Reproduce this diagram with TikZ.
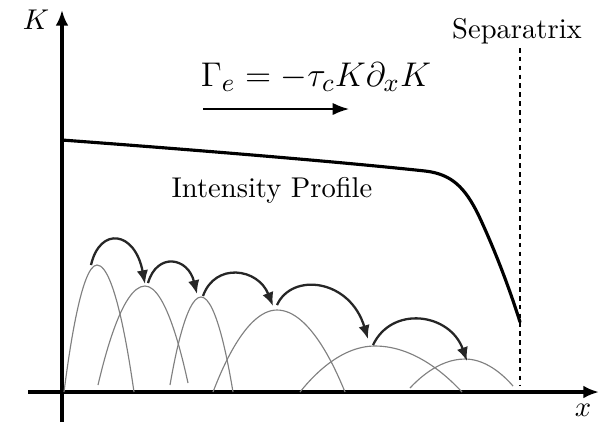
\documentclass[tikz,border=0pt]{standalone}
\usepackage{amsmath,amssymb}
\usepackage{tikz}
\usetikzlibrary{arrows.meta}
\usepackage{xcolor}

\begin{document}
\begin{tikzpicture}[x=0.35pt, y=-0.35pt, >=Latex,
    axis/.style={line width=1.4pt, -{Latex[length=5.5pt,width=4.5pt]}},
    bump/.style={gray, line width=0.4pt},
    hop/.style={black!85, line width=0.8pt, -{Latex[length=4.8pt,width=4pt]}}]

  \useasboundingbox (0,0) rectangle (605,425);

  % Define coordinates for nodes
  \coordinate (yb) at (62,422);
  \coordinate (yt) at (62,10);
  \coordinate (xl) at (28,392);
  \coordinate (xr) at (599,392);
  \coordinate (st) at (520,48);
  \coordinate (sb) at (520,386);
  \coordinate (fs) at (203,109);
  \coordinate (fe) at (349,109);
  \node (Klab) at (36,20) {$K$};
  \node (xlab) at (583,410) {$x$};
  \node (sep) at (517,31) {Separatrix};
  \node (flux) at (316,77) {\fontsize{13}{15}\selectfont $\Gamma_e = -\tau_c K \partial_x K$};
  \node (prof) at (272,190) {Intensity Profile};

  % hop end points
  \coordinate (h0) at (91,265);
  \coordinate (h1) at (145,284);
  \coordinate (h1s) at (148,283);
  \coordinate (h2) at (197,294);
  \coordinate (h2s) at (203,296);
  \coordinate (h3) at (273,306);
  \coordinate (h3s) at (277,305);
  \coordinate (h4) at (368,339);
  \coordinate (h4s) at (373,345);
  \coordinate (h5) at (467,361);

  % Draw axes
  \draw[axis] (yb) -- (yt);
  \draw[axis] (xl) -- (xr);
  \draw[line width=0.5pt, dash pattern=on 1.6pt off 1.5pt] (st) -- (sb);

  % Intensity profile
  \draw[line width=1.1pt, line cap=round] (62,140) .. controls (250,154) and (370,165) .. (425,171)
    .. controls (452,174) and (465,188) .. (478,214)
    .. controls (495,250) and (510,290) .. (520,322);

  % bumps
  \draw[bump] (64,392) parabola bend (97,265) (134,392);
  \draw[bump] (98,385) parabola bend (145,286) (188,383);
  \draw[bump] (170,385) parabola bend (201,297) (233,392);
  \draw[bump] (213,392) parabola bend (277,310) (345,392);
  \draw[bump] (300,392) parabola bend (375,346) (462,392);
  \draw[bump] (410,388) parabola bend (465,359) (513,386);

  % Draw arrows between nodes
  \draw[hop] (h0) .. controls (100,226) and (135,231) .. (h1);
  \draw[hop] (h1s) .. controls (157,252) and (188,257) .. (h2);
  \draw[hop] (h2s) .. controls (215,262) and (258,268) .. (h3);
  \draw[hop] (h3s) .. controls (292,272) and (350,279) .. (h4);
  \draw[hop] (h4s) .. controls (392,305) and (450,313) .. (h5);
  \draw[->, line width=0.6pt] (fs) -- (fe);
\end{tikzpicture}
\end{document}
